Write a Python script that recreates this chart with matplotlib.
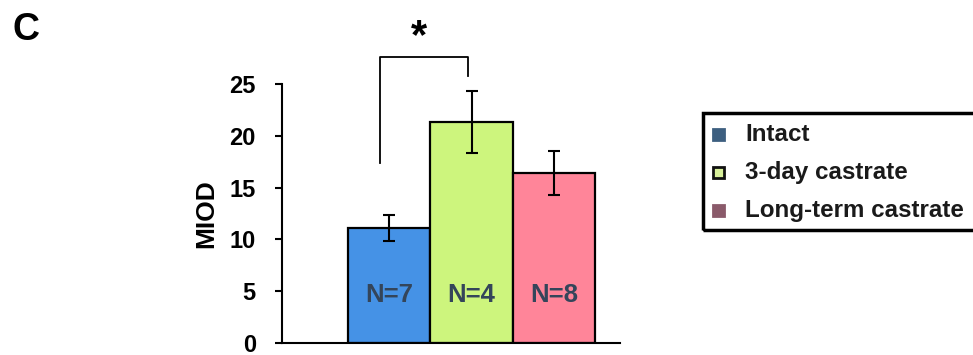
import matplotlib.pyplot as plt
from matplotlib.patches import Rectangle

plt.rcParams['font.family'] = ['Liberation Sans', 'DejaVu Sans']
plt.rcParams['font.weight'] = 'bold'

groups = ['Intact', '3-day castrate', 'Long-term castrate']
means = [11.1, 21.3, 16.4]
errors = [1.25, 3.0, 2.15]
n_labels = ['N=7', 'N=4', 'N=8']
bar_colors = ['#4592e6', '#cdf57d', '#ff8599']
legend_colors = ['#3d5f80', '#d8f09a', '#8a5a6a']
legend_edges = ['#3d5f80', '#111111', '#8a5a6a']
yticks = [0, 5, 10, 15, 20, 25]

fig = plt.figure(figsize=(9.73, 3.55), dpi=100)
ax = fig.add_axes([0.29, 0.034, 0.347, 0.729])

x = list(range(len(groups)))
ax.bar(x, means, width=1.0, color=bar_colors, edgecolor='black', linewidth=1.6)
ax.errorbar(x, means, yerr=errors, fmt='none', ecolor='black',
            elinewidth=1.5, capsize=4.5, capthick=1.5)

for xi, lab in zip(x, n_labels):
    ax.text(xi, 4.6, lab, ha='center', va='center', fontsize=18.5,
            fontweight='bold', color='#34455a')

# significance bracket
ax.plot([-0.11, -0.11, 0.96, 0.96], [17.4, 27.6, 27.6, 25.8],
        color='black', linewidth=1.3, clip_on=False)
ax.text(0.36, 29.5, '*', ha='center', va='center', fontsize=30,
        fontweight='bold', clip_on=False)

ax.set_xlim(-1.3, 2.8)
ax.set_ylim(0, 25)
ax.set_yticks(yticks)
ax.set_xticks([])
ax.tick_params(axis='y', length=5, width=1.5, labelsize=17, pad=14)
for lab in ax.get_yticklabels():
    lab.set_fontweight('bold')
ax.spines['top'].set_visible(False)
ax.spines['right'].set_visible(False)
ax.spines['left'].set_linewidth(1.5)
ax.spines['bottom'].set_linewidth(1.5)
ax.set_ylabel('MIOD', fontsize=19, fontweight='bold', labelpad=8)

fig.text(0.013, 0.915, 'C', fontsize=27, fontweight='bold', va='center')

# legend box
W, H = 973, 355
fig.patches.append(Rectangle((703 / W, 1 - 230 / H), 280 / W, 117 / H,
                             transform=fig.transFigure, fill=False,
                             edgecolor='black', linewidth=2.5))
ys = [135, 173, 211]
for yy, lab, fc, ec in zip(ys, groups, legend_colors, legend_edges):
    fig.patches.append(Rectangle((713 / W, 1 - (yy + 5) / H), 11 / W, 11 / H,
                                 transform=fig.transFigure, facecolor=fc,
                                 edgecolor=ec, linewidth=2))
    fig.text(745 / W, 1 - yy / H, lab, fontsize=17.4, fontweight='bold',
             va='center', color='#1a1a1a')

fig.savefig('out.png', dpi=100)
